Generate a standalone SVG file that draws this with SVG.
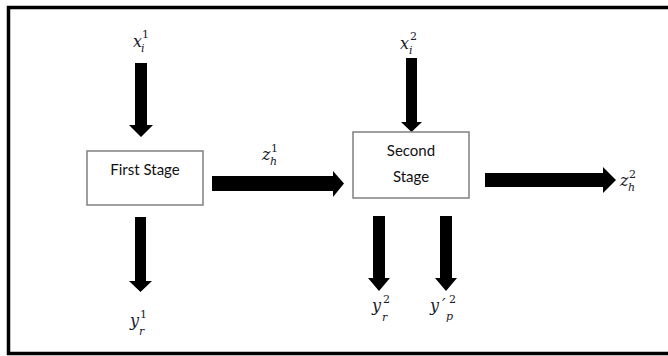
<svg xmlns="http://www.w3.org/2000/svg" width="668" height="356" viewBox="0 0 668 356">
<style>
.box{fill:#fff;stroke:#808080;stroke-width:1.5}
.lbl{font-family:Lato,"Liberation Sans",sans-serif;font-size:15px;fill:#111;text-anchor:middle}
.m{font-family:"DejaVu Serif",serif;font-style:italic;font-size:16px;fill:#1a1a2a}
.s{font-family:"DejaVu Serif",serif;font-size:11px;fill:#1a1a2a}
.si{font-family:"DejaVu Serif",serif;font-style:italic;font-size:11px;fill:#1a1a2a}
.arr{fill:#000}
</style>
<rect width="668" height="356" fill="#fff"/>
<path d="M670 7.5 H8.5 V353.5 H670" fill="none" stroke="#000" stroke-width="3.5"/>
<g id="connectors">
<polygon class="arr" points="135,63 147,63 147,125 153,125 141,137 129,125 135,125"/>
<polygon class="arr" points="135,217 146,217 146,281 152,281 140.5,292 129,281 135,281"/>
<polygon class="arr" points="212,176 333,176 333,171 344,183.5 333,197 333,191 212,191"/>
<polygon class="arr" points="406,58 417,58 417,122 422,122 411.5,132 401,122 406,122"/>
<polygon class="arr" points="485,173 603,173 603,167 616,180 603,193 603,187 485,187"/>
<polygon class="arr" points="373,216 385,216 385,278 390,278 379,291 368,278 373,278"/>
<polygon class="arr" points="440,216 452,216 452,278 457,278 446,291 435,278 440,278"/>
</g>
<g id="first-stage">
<rect class="box" x="87" y="151" width="116" height="54"/>
<text class="lbl" x="145" y="175">First Stage</text>
</g>
<g id="second-stage">
<rect class="box" x="353" y="132" width="116" height="66"/>
<text class="lbl" x="411" y="156">Second</text>
<text class="lbl" x="411" y="182">Stage</text>
</g>
<g id="x1">
<text class="m" x="133" y="47">x</text><text class="s" x="142" y="38">1</text><text class="si" x="141" y="52">i</text>
</g>
<g id="x2">
<text class="m" x="400" y="49">x</text><text class="s" x="410" y="40">2</text><text class="si" x="409" y="54">i</text>
</g>
<g id="z1">
<text class="m" x="262" y="160">z</text><text class="s" x="271" y="152">1</text><text class="si" x="270" y="165">h</text>
</g>
<g id="z2">
<text class="m" x="620" y="186">z</text><text class="s" x="629" y="178">2</text><text class="si" x="628" y="191">h</text>
</g>
<g id="y1">
<text class="m" x="130" y="326">y</text><text class="s" x="140" y="318">1</text><text class="si" x="139" y="335">r</text>
</g>
<g id="y2r">
<text class="m" x="372" y="311">y</text><text class="s" x="383" y="303">2</text><text class="si" x="382" y="321">r</text>
</g>
<g id="y2p">
<text class="m" x="430" y="311">y</text><text class="m" x="442" y="310">′</text><text class="s" x="449" y="303">2</text><text class="si" x="446" y="320">p</text>
</g>
</svg>
